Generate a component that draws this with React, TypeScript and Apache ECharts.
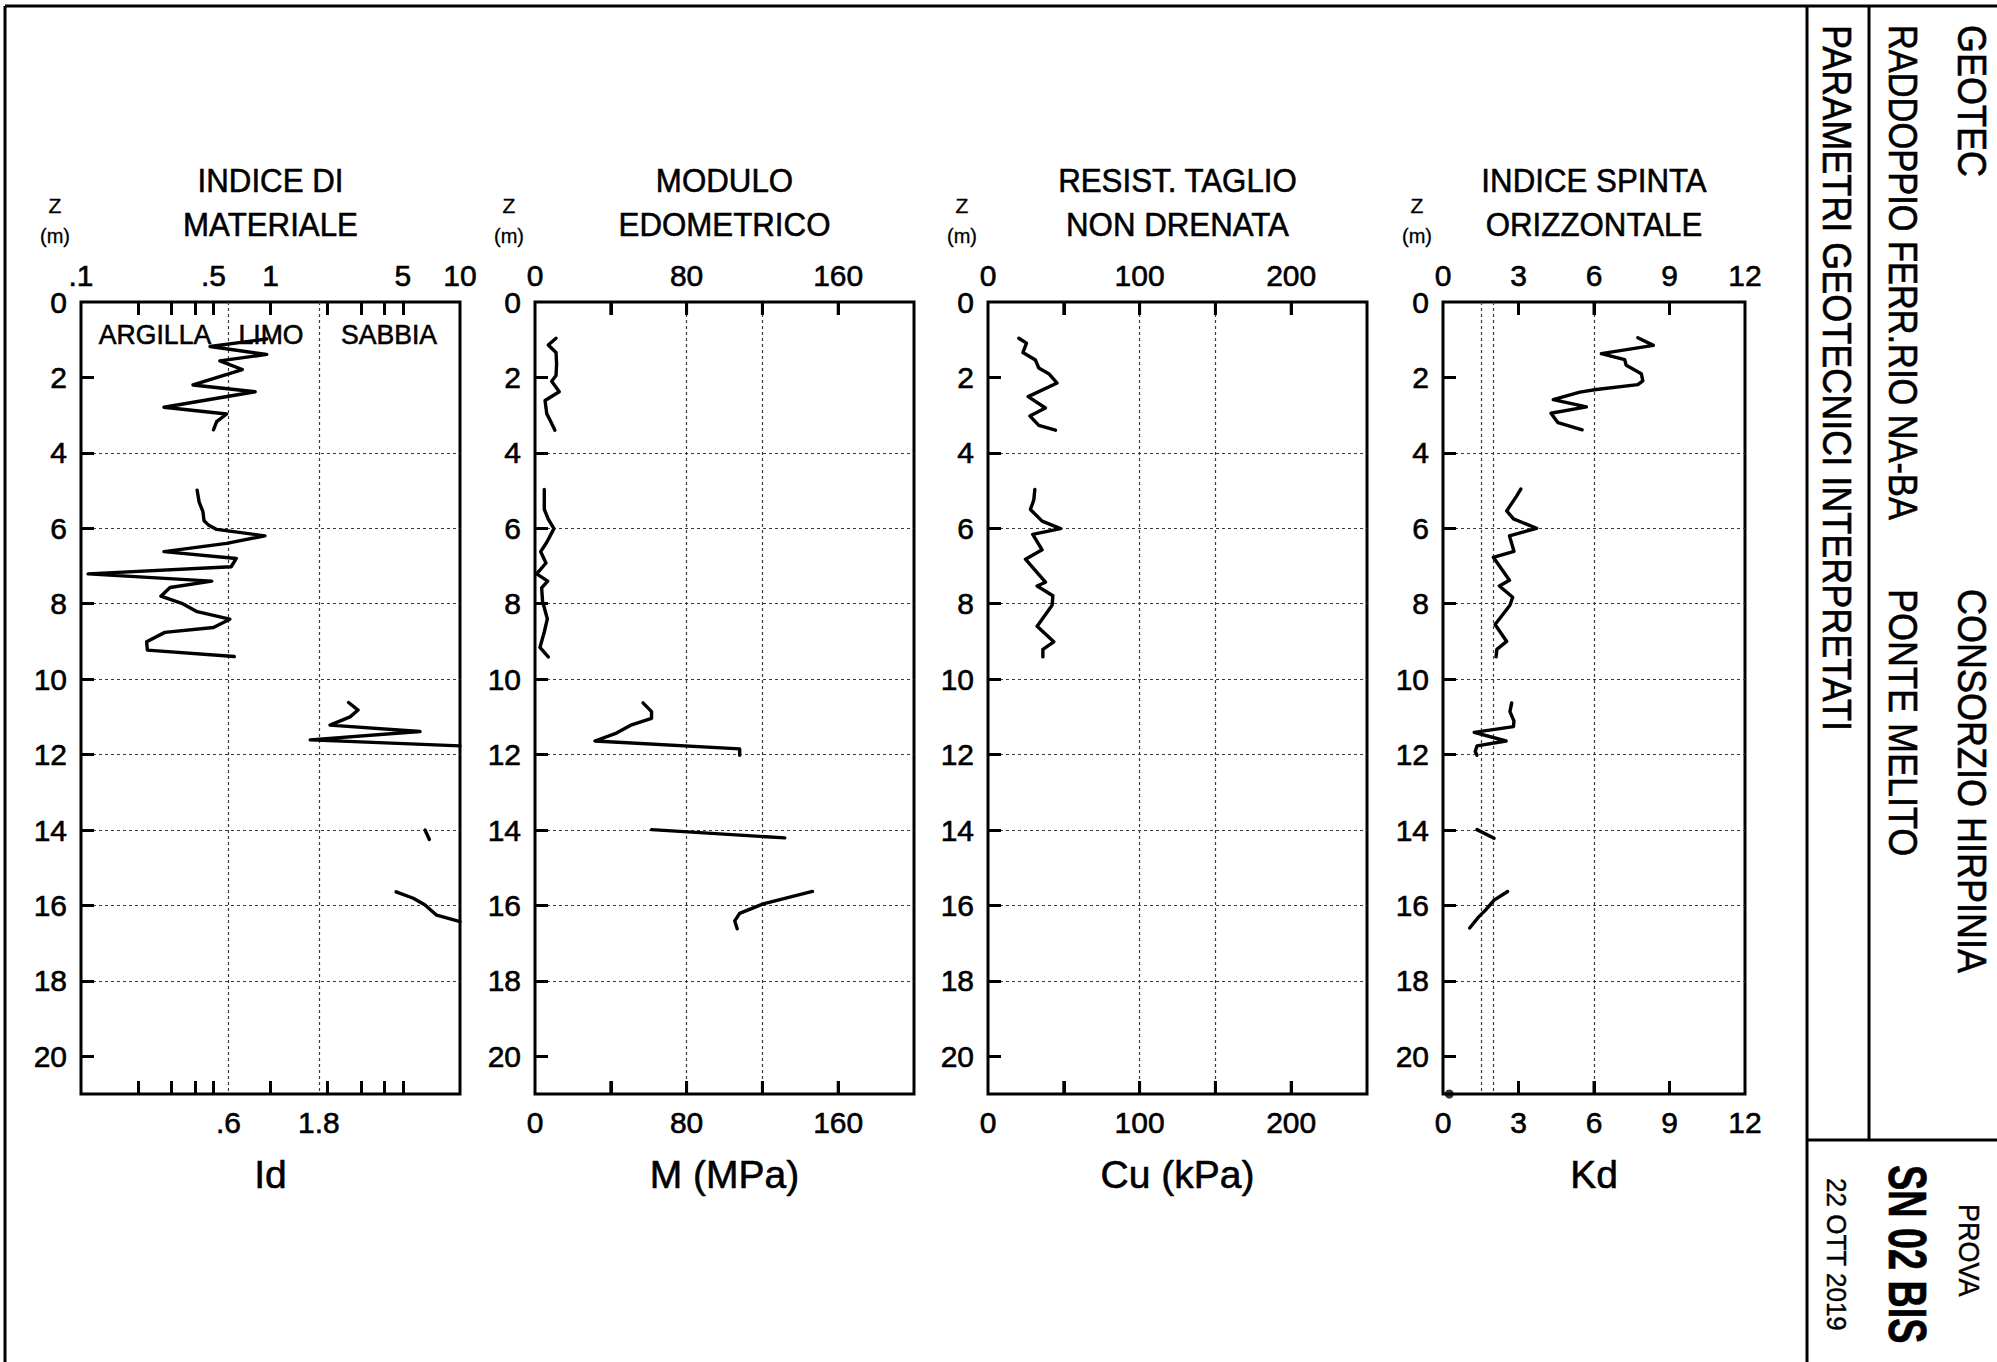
import React, { useEffect, useRef } from 'react';
import * as echarts from 'echarts';

// ---------- tick / label values ----------
const DEPTH_LABELS = [0, 2, 4, 6, 8, 10, 12, 14, 16, 18, 20];
const DEPTH_GRID = [2, 4, 6, 8, 10, 12, 14, 16, 18, 20];
const ID_TOP_LABELS = [0.1, 0.5, 1, 5, 10];
const ID_TICKS = [0.2, 0.3, 0.4, 0.5, 1, 2, 3, 4, 5];
const ID_BOUNDARIES = [0.6, 1.8];
const M_LABELS = [0, 80, 160];
const M_TICKS = [40, 80, 120, 160];
const CU_LABELS = [0, 100, 200];
const CU_TICKS = [50, 100, 150, 200];
const KD_LABELS = [0, 3, 6, 9, 12];
const KD_TICKS = [3, 6, 9];
const KD_REF_LINES = [1.5, 2];

const PANEL_TITLES = [
  ['INDICE DI', 'MATERIALE'],
  ['MODULO', 'EDOMETRICO'],
  ['RESIST. TAGLIO', 'NON DRENATA'],
  ['INDICE SPINTA', 'ORIZZONTALE'],
];
const AXIS_NAMES = ['Id', 'M (MPa)', 'Cu (kPa)', 'Kd'];
const SOIL_LABELS = ['ARGILLA', 'LIMO', 'SABBIA'];

// ---------- profiles: [depth (m), value] ----------
const ID_SEGMENTS: number[][][] = [
  [[0.98, 0.955], [1.18, 0.48], [1.39, 0.955], [1.56, 0.54], [1.79, 0.71], [2.2, 0.39], [2.38, 0.83], [2.79, 0.274], [2.97, 0.587], [3.17, 0.52], [3.39, 0.5]],
  [[4.99, 0.41], [5.3, 0.42], [5.56, 0.44], [5.8, 0.446], [5.91, 0.47], [6.03, 0.52], [6.2, 0.935], [6.4, 0.587], [6.62, 0.274], [6.8, 0.66], [7.02, 0.62], [7.21, 0.109], [7.4, 0.49], [7.57, 0.295], [7.8, 0.264], [7.99, 0.34], [8.21, 0.41], [8.41, 0.61], [8.63, 0.5], [8.76, 0.277], [9.01, 0.222], [9.23, 0.224], [9.4, 0.644]],
  [[10.62, 2.58], [10.82, 2.9], [11.0, 2.63], [11.22, 2.06], [11.39, 6.15], [11.61, 1.62], [11.77, 10]],
  [[14.0, 6.54], [14.25, 6.89]],
  [[15.64, 4.6], [15.81, 5.67], [15.99, 6.54], [16.26, 7.53], [16.43, 10]],
];
const M_SEGMENTS: number[][][] = [
  [[0.96, 11.1], [1.14, 7.0], [1.34, 11.1], [1.64, 11.4], [1.95, 11.1], [2.1, 8.8], [2.38, 12.8], [2.61, 5.3], [2.96, 6.2], [3.17, 8.3], [3.4, 10.5]],
  [[4.97, 4.9], [5.5, 4.9], [5.76, 7.0], [6.01, 10.0], [6.37, 6.2], [6.62, 3.0], [6.92, 5.8], [7.21, 0.9], [7.4, 6.7], [7.58, 3.5], [7.94, 4.0], [8.4, 6.5], [8.75, 4.9], [9.16, 2.6], [9.41, 7.0]],
  [[10.63, 57], [10.86, 61.5], [11.04, 61.5], [11.21, 51], [11.43, 43], [11.64, 31.6], [11.85, 108], [12.02, 108]],
  [[13.99, 61.5], [14.21, 131.8]],
  [[15.63, 146.4], [15.96, 120.4], [16.21, 108], [16.41, 105.4], [16.62, 106.7]],
];
const CU_SEGMENTS: number[][][] = [
  [[0.96, 20.3], [1.09, 25.4], [1.34, 23], [1.54, 31.3], [1.75, 33.5], [1.9, 40.1], [2.15, 45.6], [2.51, 26.5], [2.81, 37.9], [3.02, 27.6], [3.27, 33.5], [3.4, 44.5]],
  [[4.97, 30.9], [5.25, 30.2], [5.5, 28], [5.81, 35.7], [6.01, 47.9], [6.16, 29.5], [6.57, 35.7], [6.82, 24.7], [7.43, 37.9], [7.53, 32.4], [7.79, 42.8], [8.04, 42.3], [8.6, 32.4], [9.01, 43.4], [9.21, 36.2], [9.41, 36.2]],
];
const KD_SEGMENTS: number[][][] = [
  [[0.95, 7.74], [1.15, 8.36], [1.37, 6.29], [1.53, 7.22], [1.68, 7.28], [1.9, 7.88], [2.09, 7.94], [2.19, 7.74], [2.32, 6.09], [2.39, 5.44], [2.59, 4.38], [2.78, 5.7], [2.95, 4.29], [3.2, 4.57], [3.39, 5.53]],
  [[4.96, 3.09], [5.14, 2.93], [5.54, 2.53], [5.75, 2.8], [6.0, 3.72], [6.2, 2.64], [6.61, 2.82], [6.77, 2.0], [7.38, 2.64], [7.53, 2.24], [7.83, 2.77], [8.04, 2.66], [8.55, 2.07], [9.0, 2.53], [9.21, 2.14], [9.41, 2.11]],
  [[10.63, 2.73], [10.86, 2.66], [11.11, 2.82], [11.26, 2.8], [11.41, 1.24], [11.64, 2.51], [11.77, 1.35], [11.92, 1.28], [12.02, 1.35]],
  [[13.99, 1.35], [14.22, 2.03]],
  [[15.63, 2.57], [15.86, 2.03], [16.13, 1.68], [16.31, 1.41], [16.6, 1.06]],
];
const KD_MARK: number[][] = [[21, 0.25]];

// ---------- layout ----------
const FONT = "'Liberation Sans', Arial, Helvetica, sans-serif";
const PANELS = [
  { left: 81, width: 379 },
  { left: 535, width: 379 },
  { left: 988, width: 379 },
  { left: 1443, width: 302 },
];
const GRID_TOP = 302;
const GRID_H = 792;
const DEPTH_MAX = 21;
const TICK_LEN = 13;

const X_SCALES: any[] = [
  { type: 'log', logBase: 10, min: 0.1, max: 10 },
  { type: 'value', min: 0, max: 200 },
  { type: 'value', min: 0, max: 250 },
  { type: 'value', min: 0, max: 12 },
];
const X_TICKS = [ID_TICKS, M_TICKS, CU_TICKS, KD_TICKS];
const X_BOTTOM_LABELS = [ID_BOUNDARIES, M_LABELS, CU_LABELS, KD_LABELS];
const X_TOP_LABELS = [ID_TOP_LABELS, M_LABELS, CU_LABELS, KD_LABELS];

const fmtNum = (v: number) => {
  const s = String(+Number(v).toFixed(3));
  return s.startsWith('0.') ? s.slice(1) : s;
};

const GRID_LINE = { color: '#3a3a3a', width: 1.2, type: [3, 3] };
const INK = { textBorderColor: '#000', textBorderWidth: 0.6 };

const line = (x1: number, y1: number, x2: number, y2: number) => ({
  type: 'line',
  silent: true,
  z: 50,
  shape: { x1, y1, x2, y2 },
  style: { stroke: '#000', lineWidth: 3 },
});

const txt = (
  text: string,
  x: number,
  y: number,
  fontSize: number,
  opts: { align?: string; rotation?: number; scaleX?: number; bold?: boolean; ink?: number } = {}
) => ({
  type: 'text',
  x,
  y,
  rotation: opts.rotation || 0,
  scaleX: opts.scaleX || 1,
  silent: true,
  style: {
    text,
    fill: '#000',
    stroke: '#000',
    lineWidth: opts.ink === undefined ? 0.6 : opts.ink,
    fontSize,
    fontFamily: FONT,
    fontWeight: opts.bold ? 'bold' : 'normal',
    align: opts.align || 'center',
    textAlign: opts.align || 'center',
    verticalAlign: 'middle',
    textVerticalAlign: 'middle',
  },
});

function buildGraphics(): any[] {
  const graphics: any[] = [];
  PANELS.forEach((p, i) => {
    const cx = p.left + p.width / 2;
    graphics.push(txt(PANEL_TITLES[i][0], cx, 180, 34, { scaleX: 0.92 }));
    graphics.push(txt(PANEL_TITLES[i][1], cx, 224, 34, { scaleX: 0.92 }));
    graphics.push(txt('Z', p.left - 26, 205, 21, { ink: 0.3 }));
    graphics.push(txt('(m)', p.left - 26, 236, 20, { ink: 0.3 }));
  });
  const soilX = [155, 271, 389];
  SOIL_LABELS.forEach((s, i) => graphics.push(txt(s, soilX[i], 334, 28, { scaleX: 0.95 })));

  // frame lines
  graphics.push(line(5, 6, 5, 1362));
  graphics.push(line(5, 6, 1997, 6));
  graphics.push(line(1807, 6, 1807, 1362));
  graphics.push(line(1869, 6, 1869, 1140));
  graphics.push(line(1807, 1140, 1997, 1140));

  // title block (rotated clockwise)
  const R = -Math.PI / 2;
  graphics.push(txt('GEOTEC', 1972, 25, 40, { align: 'left', rotation: R, scaleX: 0.9 }));
  graphics.push(txt('CONSORZIO HIRPINIA', 1972, 589, 40, { align: 'left', rotation: R, scaleX: 0.9 }));
  graphics.push(txt('RADDOPPIO FERR.RIO NA-BA', 1903, 25, 40, { align: 'left', rotation: R, scaleX: 0.86 }));
  graphics.push(txt('PONTE MELITO', 1903, 589, 40, { align: 'left', rotation: R, scaleX: 0.9 }));
  graphics.push(txt('PARAMETRI GEOTECNICI INTERPRETATI', 1837, 25, 40, { align: 'left', rotation: R, scaleX: 0.9 }));
  graphics.push(txt('PROVA', 1970, 1204, 30, { align: 'left', rotation: R, scaleX: 0.9, ink: 0.4 }));
  graphics.push(txt('SN 02 BIS', 1908, 1165, 54, { align: 'left', rotation: R, scaleX: 0.7, bold: true }));
  graphics.push(txt('22 OTT 2019', 1836, 1178, 28, { align: 'left', rotation: R, scaleX: 0.93, ink: 0.4 }));
  return graphics;
}

function buildOption() {
  const makeTick = (custom: number[]) => ({
    show: true,
    inside: true,
    length: TICK_LEN,
    customValues: custom.slice(),
    lineStyle: { color: '#000', width: 3 },
  });
  const labelStyle = { color: '#000', fontSize: 30, fontFamily: FONT, ...INK };
  const grids = PANELS.map((p) => ({
    left: p.left,
    top: GRID_TOP,
    width: p.width,
    height: GRID_H,
    show: true,
    borderColor: '#000',
    borderWidth: 3,
    backgroundColor: 'transparent',
    containLabel: false,
    outerBoundsMode: 'none',
  }));

  const xAxes: any[] = [];
  PANELS.forEach((_, p) => {
    const base = X_SCALES[p];
    xAxes.push({
      ...base,
      gridIndex: p,
      position: 'bottom',
      axisLine: { show: false, onZero: false },
      axisTick: makeTick(X_TICKS[p]),
      axisLabel: { ...labelStyle, margin: 13, customValues: X_BOTTOM_LABELS[p].slice(), formatter: fmtNum },
      splitLine:
        p === 0
          ? { show: false }
          : { show: true, showMinLine: false, showMaxLine: false, lineStyle: { ...GRID_LINE } },
      name: AXIS_NAMES[p],
      nameLocation: 'middle',
      nameGap: 61,
      nameTextStyle: { color: '#000', fontSize: 39, fontFamily: FONT, ...INK },
    });
    xAxes.push({
      ...base,
      gridIndex: p,
      position: 'top',
      axisLine: { show: false, onZero: false },
      axisTick: makeTick(X_TICKS[p]),
      axisLabel: { ...labelStyle, margin: 12, customValues: X_TOP_LABELS[p].slice(), formatter: fmtNum },
      splitLine: { show: false },
    });
  });

  const yAxes = PANELS.map((_, p) => ({
    gridIndex: p,
    type: 'value',
    inverse: true,
    min: 0,
    max: DEPTH_MAX,
    axisLine: { show: false, onZero: false },
    axisTick: makeTick(DEPTH_GRID),
    axisLabel: { ...labelStyle, margin: 14, customValues: DEPTH_LABELS.slice() },
    splitLine: { show: true, showMinLine: false, showMaxLine: false, lineStyle: { ...GRID_LINE } },
  }));

  const refLines = (vals: number[]) => ({
    silent: true,
    symbol: ['none', 'none'],
    label: { show: false },
    emphasis: { disabled: true },
    lineStyle: { ...GRID_LINE },
    data: vals.map((v) => ({ xAxis: v })),
  });

  const series: any[] = [];
  [ID_SEGMENTS, M_SEGMENTS, CU_SEGMENTS, KD_SEGMENTS].forEach((segs, p) => {
    segs.forEach((seg, k) => {
      const s: any = {
        type: 'line',
        xAxisIndex: 2 * p,
        yAxisIndex: p,
        data: seg.map(([d, v]) => [v, d]),
        symbol: 'none',
        showSymbol: false,
        silent: true,
        clip: true,
        z: 5,
        lineStyle: { color: '#000', width: 3.4, cap: 'round', join: 'round' },
      };
      if (k === 0 && p === 0) s.markLine = refLines(ID_BOUNDARIES);
      if (k === 0 && p === 3) s.markLine = refLines(KD_REF_LINES);
      series.push(s);
    });
  });

  series.push({
    type: 'scatter',
    xAxisIndex: 6,
    yAxisIndex: 3,
    data: KD_MARK.map(([d, v]) => [v, d]),
    symbolSize: 9,
    itemStyle: { color: '#000' },
    clip: false,
    silent: true,
    z: 6,
  });

  return {
    animation: false,
    backgroundColor: '#fff',
    textStyle: { fontFamily: FONT },
    grid: grids,
    xAxis: xAxes,
    yAxis: yAxes,
    series,
    graphic: { elements: buildGraphics() },
  };
}

export default function App() {
  const ref = useRef<HTMLDivElement>(null);
  useEffect(() => {
    if (!ref.current) return;
    const chart = echarts.init(ref.current, null, { renderer: 'svg' });
    chart.setOption(buildOption() as any);
    // inward x tick marks of the linear panels, positioned through the axes' own scales
    try {
      const tickLines: any[] = [];
      for (let p = 1; p < PANELS.length; p++) {
        X_TICKS[p].forEach((v) => {
          const finder = { gridIndex: p };
          const top = chart.convertToPixel(finder as any, [v, 0]) as number[];
          const bot = chart.convertToPixel(finder as any, [v, DEPTH_MAX]) as number[];
          if (!top || !bot || !isFinite(top[0]) || !isFinite(top[1]) || !isFinite(bot[1])) return;
          const x = top[0];
          tickLines.push(line(x, top[1], x, top[1] + TICK_LEN));
          tickLines.push(line(x, bot[1], x, bot[1] - TICK_LEN));
        });
      }
      if (tickLines.length) {
        chart.setOption({ graphic: { elements: [...buildGraphics(), ...tickLines] } } as any);
      }
    } catch (e) {
      // keep the base chart if pixel conversion is unavailable
    }
    return () => chart.dispose();
  }, []);
  return (
    <div
      ref={ref}
      style={{ position: 'fixed', left: 0, top: 0, width: 1997, height: 1362, background: '#fff' }}
    />
  );
}
